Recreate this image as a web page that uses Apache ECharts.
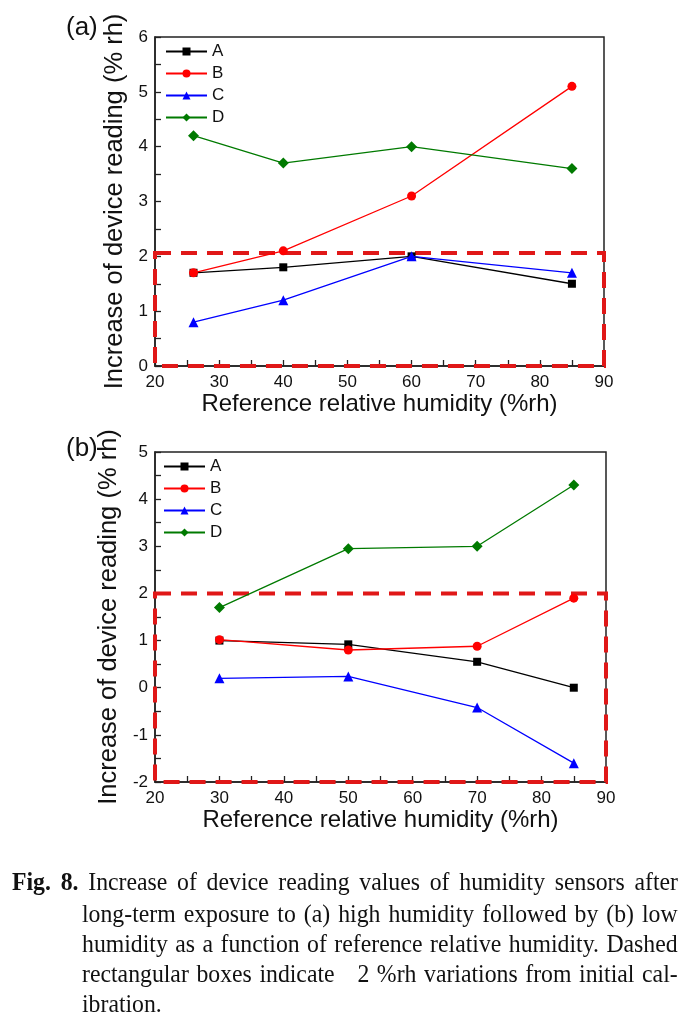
<!DOCTYPE html>
<html>
<head>
<meta charset="utf-8">
<script src="https://cdn.jsdelivr.net/npm/echarts@6/dist/echarts.min.js"></script>
<style>
  html, body { margin: 0; padding: 0; background: #fff; }
  #chart { position: absolute; left: 0; top: 0; width: 698px; height: 1020px; }
  .cap {
    position: absolute; white-space: nowrap;
    font-family: "Liberation Serif", "DejaVu Serif", serif; font-size: 25px;
    line-height: 30px; height: 30px; color: #111;
    transform: scaleX(0.95); transform-origin: 0 0;
    text-align: justify; text-align-last: justify;
  }
  .cap.last { text-align: left; text-align-last: left; }
  .cap b { font-weight: bold; }
</style>
</head>
<body>
<div id="chart"></div>
<div class="cap" style="left:12px; top:867px; width:701px;"><b>Fig. 8.</b> Increase of device reading values of humidity sensors after</div>
<div class="cap" style="left:82px; top:899px; width:627px;">long-term exposure to (a) high humidity followed by (b) low</div>
<div class="cap" style="left:82px; top:929px; width:627px;">humidity as a function of reference relative humidity. Dashed</div>
<div class="cap" style="left:82px; top:959px; width:627px;">rectangular boxes indicate &nbsp;&nbsp;2 %rh variations from initial cal-</div>
<div class="cap last" style="left:82px; top:989px; width:627px;">ibration.</div>
<script>
// ---- data ----
const seriesNames = ['A', 'B', 'C', 'D'];
// panel (a)
const xA = [26, 40, 60, 85];
const aA = [1.7, 1.8, 2.0, 1.5];
const aB = [1.7, 2.1, 3.1, 5.1];
const aC = [0.8, 1.2, 2.0, 1.7];
const aD = [4.2, 3.7, 4.0, 3.6];
// panel (b)
const xB = [30, 50, 70, 85];
const bA = [1.0, 0.92, 0.55, 0.0];
const bB = [1.02, 0.8, 0.88, 1.9];
const bC = [0.2, 0.24, -0.42, -1.6];
const bD = [1.7, 2.95, 3.0, 4.3];
// dashed boxes [xmin, xmax, ymin, ymax]
const boxA = [20, 90, 0, 2.06];
const boxB = [20, 90, -2, 2];
// axes
const xRange = [20, 90];
const yRangeA = [0, 6];
const yRangeB = [-2, 5];
const xTitle = 'Reference relative humidity (%rh)';
const yTitle = 'Increase of device reading (% rh)';
const panelLabels = ['(a)', '(b)'];

const colors = ['#000000', '#ff0000', '#0000ff', '#007a00'];
const symbols = ['rect', 'circle', 'triangle', 'diamond'];
const symbolSizes = [8, 9, 10, 11];
const FONT = '"Liberation Sans", Arial, sans-serif';

const chart = echarts.init(document.getElementById('chart'));

function zip(xs, ys) { return xs.map((x, i) => [x, ys[i]]); }

function xAxisCfg(gi, gap) {
  return {
    type: 'value', gridIndex: gi, min: xRange[0], max: xRange[1], interval: 10,
    name: xTitle, nameLocation: 'middle', nameGap: gap,
    nameTextStyle: { fontFamily: FONT, fontSize: 24, color: '#111' },
    axisLine: { show: true, onZero: false, lineStyle: { color: '#222', width: 1.5 } },
    axisTick: { show: true, inside: true, length: 6, lineStyle: { color: '#222', width: 1.3 } },
    minorTick: { show: true, splitNumber: 2, length: 6, lineStyle: { color: '#222', width: 1.3 } },
    axisLabel: { fontFamily: FONT, fontSize: 17, color: '#111', margin: 8 },
    splitLine: { show: false }
  };
}
function yAxisCfg(gi, range, gap) {
  return {
    type: 'value', gridIndex: gi, min: range[0], max: range[1], interval: 1,
    name: yTitle, nameLocation: 'middle', nameGap: gap,
    nameTextStyle: { fontFamily: FONT, fontSize: 25.5, color: '#111' },
    axisLine: { show: true, onZero: false, lineStyle: { color: '#222', width: 1.5 } },
    axisTick: { show: true, inside: true, length: 6, lineStyle: { color: '#222', width: 1.3 } },
    minorTick: { show: true, splitNumber: 2, length: 6, lineStyle: { color: '#222', width: 1.3 } },
    axisLabel: { fontFamily: FONT, fontSize: 17, color: '#111', margin: 7 },
    splitLine: { show: false }
  };
}

function makeSeries(gi, xs, ys, idx, box) {
  const s = {
    name: seriesNames[idx], type: 'line', xAxisIndex: gi, yAxisIndex: gi,
    data: zip(xs, ys), symbol: symbols[idx], symbolSize: symbolSizes[idx],
    lineStyle: { color: colors[idx], width: 1.3 },
    itemStyle: { color: colors[idx] },
    z: 3 + idx, animation: false
  };
  if (idx === 0) {
    s.markArea = {
      silent: true,
      itemStyle: { color: 'rgba(0,0,0,0)', borderColor: '#e01818', borderWidth: 4, borderType: [16, 10] },
      data: [[{ coord: [box[0], box[3]] }, { coord: [box[1], box[2]] }]]
    };
  }
  return s;
}

const dataA = [aA, aB, aC, aD];
const dataB = [bA, bB, bC, bD];
const series = [];
dataA.forEach((d, i) => series.push(makeSeries(0, xA, d, i, boxA)));
dataB.forEach((d, i) => series.push(makeSeries(1, xB, d, i, boxB)));

function legendCfg(top, left) {
  return {
    data: seriesNames, orient: 'vertical', left: left, top: top,
    itemWidth: 41, itemHeight: 10, itemGap: 5,
    textStyle: { fontFamily: FONT, fontSize: 17, color: '#111' },
    selectedMode: false
  };
}

chart.setOption({
  animation: false,
  grid: [
    { left: 155, top: 37, width: 449, height: 329, show: true, borderColor: '#222', borderWidth: 1.5, backgroundColor: 'transparent' },
    { left: 155, top: 452, width: 451, height: 330, show: true, borderColor: '#222', borderWidth: 1.5, backgroundColor: 'transparent' }
  ],
  xAxis: [xAxisCfg(0, 24), xAxisCfg(1, 25)],
  yAxis: [yAxisCfg(0, yRangeA, 15), yAxisCfg(1, yRangeB, 19)],
  legend: [legendCfg(38, 160), legendCfg(453, 158)],
  graphic: [
    { type: 'text', left: 66, top: 15, style: { text: panelLabels[0], font: '26px ' + FONT, fill: '#111' } },
    { type: 'text', left: 66, top: 436, style: { text: panelLabels[1], font: '26px ' + FONT, fill: '#111' } }
  ],
  series: series
});
</script>
</body>
</html>
